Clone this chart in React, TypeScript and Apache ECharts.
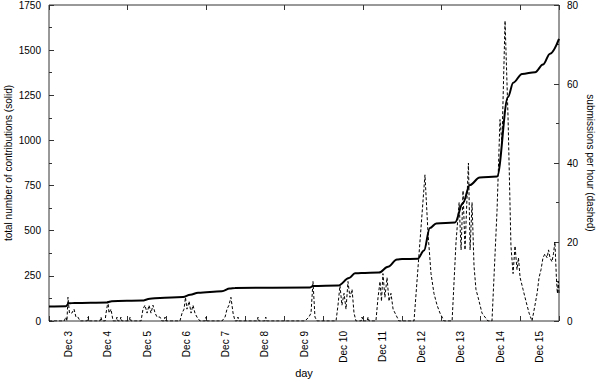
import React, { useEffect, useRef } from "react";
import * as echarts from "echarts";

const days = ["Dec 3", "Dec 4", "Dec 5", "Dec 6", "Dec 7", "Dec 8", "Dec 9", "Dec 10", "Dec 11", "Dec 12", "Dec 13", "Dec 14", "Dec 15"];

// hours since Dec 3 00:00
const totalHours = [0, 10.3, 12.2, 15.8, 35.5, 38.4, 56.9, 61.7, 67.9, 82, 86.4, 91.2, 105.8, 110.6, 113.8, 159.6, 161.5, 176.9, 183.6, 187.2, 191, 201.8, 207.4, 212.9, 216, 225.6, 229.4, 233, 236.9, 248.4, 253.2, 257.5, 263.5, 274.1, 280.8, 284, 289.4, 297.4, 302.2, 306.5, 312];
const totalValues = [80, 82, 98, 100, 103, 110, 113, 123, 128, 133, 145, 157, 165, 180, 183, 186, 194, 196, 238, 264, 266, 268, 300, 340, 343, 345, 390, 515, 540, 545, 653, 753, 795, 800, 1240, 1320, 1368, 1378, 1420, 1480, 1562];

const subHours = [
  0, 9.2, 10.4, 11, 11.6, 12.5, 14, 15.3, 16.5, 17.7, 19, 23.3, 23.9, 24.5,
  31.2, 31.8, 32.4, 34.3, 34.9, 36.1, 36.7, 37.9, 39.2, 41, 41.6, 42.2, 43.4, 44, 44.6, 49, 49.6, 50.2,
  56.3, 57.5, 58.7, 60, 61.2, 62.4, 63.6, 64.9, 66.1, 67.9, 69.1, 70.4, 71, 71.6,
  80.1, 81.4, 82.6, 83.5, 84.4, 85.7, 86.9, 88.1, 89.3, 90.5, 92.4, 95.5, 96.1, 96.7,
  105.8, 107.7, 108.9, 110.1, 111.3, 112.6, 113.8, 115, 115.6, 116.2,
  127.3, 127.9, 128.5, 132, 132.6, 133.2,
  156.6, 159, 160.3, 161.5, 162.7, 164,
  175.6, 176.8, 178, 179.2, 180.5, 181.7, 182.9, 184.1, 185.4, 186.6, 187.8, 190.9, 191.5, 192.1, 194.6, 195.2, 195.8,
  200, 201.3, 202.5, 203.4, 204.3, 205.5, 206.8, 208, 209.2, 210.5, 211.7, 212.9, 214.1,
  223.3, 230, 231.9, 233.7, 235.5, 237.4, 239.2, 241.7,
  246.6, 249, 250.9, 252.1, 253.3, 254.5, 255.7, 256.6, 257.6, 258.8, 260, 261.2, 262.5, 263.7, 264.9, 266.7, 268.6,
  271, 274.1, 275.9, 277.1, 279, 280.8, 282.6, 283.9, 285.1, 286.3, 287.2, 288.2, 290, 291.8, 293.7, 295.5,
  297.3, 298.6, 299.8, 301, 302.2, 303.4, 304.7, 305.6, 306.5, 307.7, 308.6, 309.5, 310.4, 311, 311.6, 312,
];
const subValues = [
  0, 0, 1, 0, 6, 2, 2, 3, 1, 1, 0, 0, 1, 0,
  0, 1, 0, 0, 2, 5, 2, 3, 0, 0, 1, 0, 0, 1, 0, 0, 1, 0,
  0, 3, 4, 2, 4, 2, 4, 2, 1, 1, 0, 0, 1, 0,
  0, 2, 3, 6, 3, 5, 2, 4, 2, 1, 0, 0, 1, 0,
  0, 1, 3, 4, 6, 2, 0, 0, 1, 0,
  0, 1, 0, 0, 1, 0,
  0, 1, 2, 10, 1, 0,
  0, 4, 9, 4, 7, 3, 10, 6, 8, 2, 0, 0, 1, 0, 0, 1, 0,
  0, 6, 10, 5, 12, 6, 11, 5, 7, 3, 2, 1, 0,
  0, 37, 22, 12, 7, 4, 2, 0,
  0, 20, 30, 18, 33, 18, 31, 40, 18, 30, 14, 8, 6, 4, 2, 1, 0,
  0, 28, 51, 45, 76, 52, 19, 12, 19, 13, 16, 11, 8, 5, 2, 0,
  4, 7, 11, 13, 16, 17, 16, 18, 16, 15, 17, 20, 11, 7, 10, 7,
];

const leftTicks = { min: 0, max: 1750, step: 250 };
const rightTicks = { min: 0, max: 80, step: 20 };

const FONT = "Liberation Sans";

export default function App() {
  const ref = useRef<HTMLDivElement>(null);
  useEffect(() => {
    if (!ref.current) return;
    const chart = echarts.init(ref.current, undefined, { renderer: "svg" });
    const total = totalHours.map((h, i) => [h, totalValues[i]]);
    const subs = subHours.map((h, i) => [h, subValues[i]]);
    const labelStyle = { color: "#000", fontFamily: FONT, fontSize: 10 };
    const plain = (v: number) => String(v);
    chart.setOption({
      animation: false,
      backgroundColor: "#fff",
      grid: {
        left: 49, right: 39, top: 5, bottom: 59, show: true, borderColor: "#333", borderWidth: 1,
        backgroundColor: "transparent", containLabel: false, outerBoundsMode: "none",
      },
      xAxis: [
        { type: "value", min: 0, max: 312, show: false },
        {
          type: "category", data: days, position: "bottom", boundaryGap: true,
          axisLine: { show: false },
          axisTick: { show: true, inside: true, length: 5, lineStyle: { color: "#333" } },
          axisLabel: { ...labelStyle, rotate: 90, margin: 10, interval: 0 },
          name: "day", nameLocation: "middle", nameGap: 46, nameMoveOverlap: false,
          nameTextStyle: { ...labelStyle, fontSize: 11 },
        },
        {
          type: "category", data: days, position: "top", boundaryGap: true,
          axisLine: { show: false },
          axisTick: { show: true, inside: true, length: 5, lineStyle: { color: "#333" } },
          axisLabel: { show: false },
        },
      ],
      yAxis: [
        {
          type: "value", position: "left", min: leftTicks.min, max: leftTicks.max, interval: leftTicks.step,
          axisLine: { show: false }, splitLine: { show: false },
          axisTick: { show: true, inside: true, length: 5, lineStyle: { color: "#333" } },
          minorTick: { show: true, splitNumber: 2, length: 3, lineStyle: { color: "#333" } },
          axisLabel: { ...labelStyle, margin: 8, formatter: plain },
          name: "total number of contributions (solid)", nameLocation: "middle", nameRotate: 90, nameGap: 36,
          nameMoveOverlap: false,
          nameTextStyle: { ...labelStyle, fontSize: 10 },
        },
        {
          type: "value", position: "right", min: rightTicks.min, max: rightTicks.max, interval: rightTicks.step,
          axisLine: { show: false }, splitLine: { show: false },
          axisTick: { show: true, inside: true, length: 5, lineStyle: { color: "#333" } },
          minorTick: { show: true, splitNumber: 2, length: 3, lineStyle: { color: "#333" } },
          axisLabel: { ...labelStyle, margin: 8, formatter: plain },
          name: "submissions per hour (dashed)", nameLocation: "middle", nameRotate: -90, nameGap: 26,
          nameMoveOverlap: false,
          nameTextStyle: { ...labelStyle, fontSize: 10 },
        },
      ],
      series: [
        {
          type: "line", name: "total", xAxisIndex: 0, yAxisIndex: 0, data: total,
          showSymbol: false, symbol: "none", smooth: 0.35, smoothMonotone: "x",
          lineStyle: { color: "#000", width: 2 }, z: 3,
        },
        {
          type: "line", name: "submissions", xAxisIndex: 0, yAxisIndex: 1, data: subs,
          showSymbol: false, symbol: "none",
          lineStyle: { color: "#000", width: 1, type: [3, 2] }, z: 2,
        },
      ],
    });
    return () => chart.dispose();
  }, []);
  return <div ref={ref} style={{ width: 598, height: 380, position: "absolute", left: 0, top: 0 }} />;
}
